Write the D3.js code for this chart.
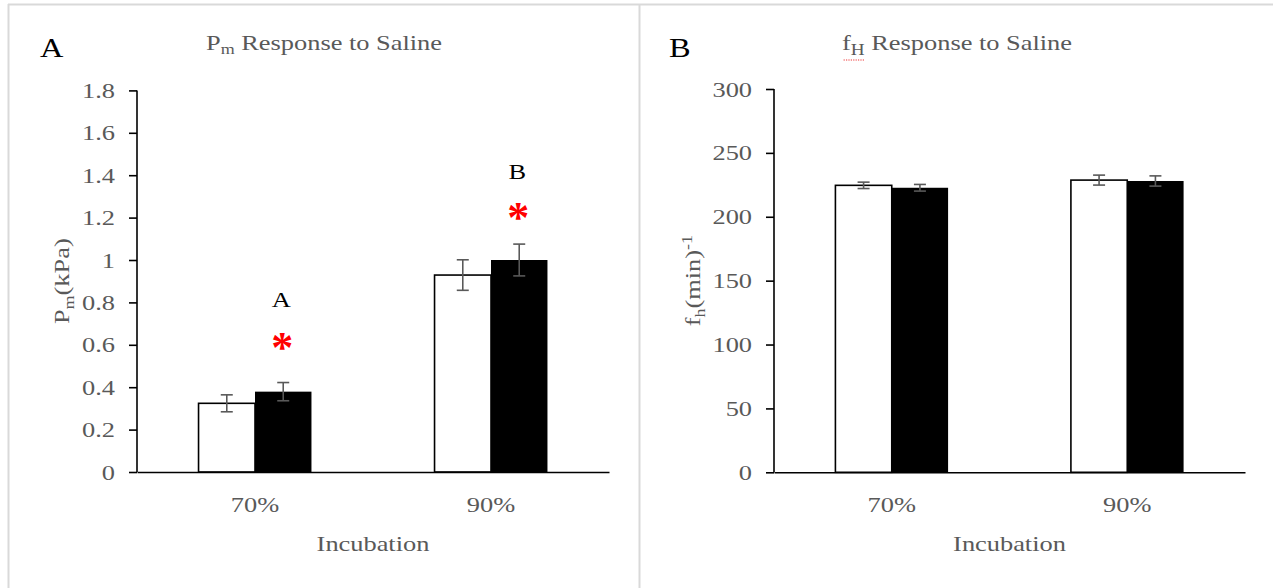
<!DOCTYPE html>
<html>
<head>
<meta charset="utf-8">
<script src="https://cdn.jsdelivr.net/npm/d3@7"></script>
<style>
  html, body { margin: 0; padding: 0; background: #fff; }
  svg { display: block; }
  text { font-family: "Liberation Serif", "Times New Roman", serif; }
</style>
</head>
<body>
<svg id="chart" width="1273" height="588"></svg>
<script>
// ---------- data ----------
const categories = ["70%", "90%"];
const seriesKeys = ["control", "treatment"];

const pmControl = [0.324, 0.929];
const pmTreatment = [0.379, 1.0];
const pmControlErr = [0.040, 0.072];
const pmTreatmentErr = [0.043, 0.075];
const pmTicks = [0, 0.2, 0.4, 0.6, 0.8, 1, 1.2, 1.4, 1.6, 1.8];
const pmGroupLetters = ["A", "B"];
// annotation anchor heights in Pm units
const pmStarAt = [0.608, 1.222];
const pmLetterAt = [0.811, 1.415];

const fhControl = [224.6, 228.7];
const fhTreatment = [222.7, 228.0];
const fhControlErr = [2.5, 3.9];
const fhTreatmentErr = [2.6, 4.0];
const fhTicks = [0, 50, 100, 150, 200, 250, 300];

// ---------- drawing ----------
const svg = d3.select("#chart");
const GRAY = "#595959";
const FONT = 22;
const SX = 1.2;   // horizontal stretch of the original text

// panel frames
svg.append("line").attr("x1", 8).attr("x2", 1273).attr("y1", 4.5).attr("y2", 4.5)
  .attr("stroke", "#d9d9d9").attr("stroke-width", 2);
svg.append("line").attr("x1", 8.5).attr("x2", 8.5).attr("y1", 4).attr("y2", 588)
  .attr("stroke", "#d9d9d9").attr("stroke-width", 2);
svg.append("line").attr("x1", 639.5).attr("x2", 639.5).attr("y1", 4).attr("y2", 588)
  .attr("stroke", "#d9d9d9").attr("stroke-width", 2);

function stretchText(parent, x, y, opts = {}) {
  const grp = parent.append("g")
    .attr("transform", `translate(${x},${y}) ${opts.rotate ? `rotate(${opts.rotate})` : ""} scale(${SX},1)`);
  const t = grp.append("text").attr("x", 0).attr("y", 0)
    .attr("text-anchor", opts.anchor || "middle")
    .attr("fill", opts.fill || GRAY)
    .attr("font-size", opts.size || FONT);
  return { grp, t };
}

function panel(cfg) {
  const g = svg.append("g");
  const x0 = d3.scaleBand().domain(categories).range([cfg.xl, cfg.xr]).padding(0);
  const x1 = d3.scaleBand().domain(seriesKeys).range([0, x0.bandwidth()])
    .paddingInner(0).paddingOuter(1.09);
  const y = d3.scaleLinear().domain(cfg.domain).range([cfg.y0, cfg.y1]);

  const rows = categories.map((c, i) => ([
    { cat: c, key: "control", v: cfg.control[i], e: cfg.controlErr[i] },
    { cat: c, key: "treatment", v: cfg.treatment[i], e: cfg.treatmentErr[i] }
  ])).flat();

  // bars
  g.selectAll("rect.bar").data(rows).join("rect")
    .attr("class", "bar")
    .attr("x", d => x0(d.cat) + x1(d.key))
    .attr("width", x1.bandwidth())
    .attr("y", d => y(d.v))
    .attr("height", d => y(0) - y(d.v))
    .attr("fill", d => d.key === "control" ? "#fff" : "#000")
    .attr("stroke", "#000")
    .attr("stroke-width", d => d.key === "control" ? 1.6 : 0);

  // error bars
  const eb = g.selectAll("g.err").data(rows).join("g").attr("class", "err")
    .attr("stroke", "#595959").attr("stroke-width", 1.6);
  const cx = d => x0(d.cat) + x1(d.key) + x1.bandwidth() / 2;
  eb.append("line").attr("x1", cx).attr("x2", cx)
    .attr("y1", d => y(d.v - d.e)).attr("y2", d => y(d.v + d.e));
  eb.append("line").attr("x1", d => cx(d) - 6).attr("x2", d => cx(d) + 6)
    .attr("y1", d => y(d.v - d.e)).attr("y2", d => y(d.v - d.e));
  eb.append("line").attr("x1", d => cx(d) - 6).attr("x2", d => cx(d) + 6)
    .attr("y1", d => y(d.v + d.e)).attr("y2", d => y(d.v + d.e));

  // y axis
  const yAxis = g.append("g").attr("transform", `translate(${cfg.xl},0)`)
    .call(d3.axisLeft(y).tickValues(cfg.ticks).tickSize(8).tickPadding(14)
      .tickFormat(d => String(d)));
  yAxis.attr("font-family", null);
  yAxis.select(".domain").attr("stroke", "#000").attr("stroke-width", 1.6)
    .attr("d", `M0,${cfg.y0}V${cfg.y1}`);
  yAxis.selectAll(".tick line").attr("stroke", "#000").attr("stroke-width", 1.6);
  yAxis.selectAll(".tick text").attr("fill", GRAY).attr("font-size", FONT)
    .attr("x", -22 / SX).attr("transform", `scale(${SX},1)`);

  // x axis
  const xAxis = g.append("g").attr("transform", `translate(0,${cfg.y0})`)
    .call(d3.axisBottom(x0).tickSize(0).tickPadding(24));
  xAxis.attr("font-family", null);
  xAxis.select(".domain").attr("stroke", "#000").attr("stroke-width", 1.6);
  xAxis.selectAll(".tick text").attr("fill", GRAY).attr("font-size", FONT)
    .attr("transform", `scale(${SX},1)`);

  // axis titles
  stretchText(g, (cfg.xl + cfg.xr) / 2, 551).t.text("Incubation");

  const yt = stretchText(g, cfg.yTitleX, (cfg.y0 + cfg.y1) / 2, { rotate: -90 });
  cfg.yTitle(yt.t);

  // chart title
  const tt = stretchText(g, cfg.titleX, 50);
  cfg.title(tt.t, tt.grp);

  // panel letter
  stretchText(g, cfg.letterX, 57, { anchor: "start", fill: "#000", size: 27 }).t.text(cfg.letter);

  return { g, x0, x1, y };
}

const A = panel({
  xl: 137, xr: 609, y0: 472, y1: 90.4, domain: [0, 1.8],
  control: pmControl, treatment: pmTreatment,
  controlErr: pmControlErr, treatmentErr: pmTreatmentErr,
  ticks: pmTicks, titleX: 324, letterX: 40, letter: "A",
  yTitleX: 69,
  yTitle: t => {
    t.append("tspan").text("P");
    t.append("tspan").attr("font-size", 15).attr("dy", 5).text("m");
    t.append("tspan").attr("dy", -5).text("(kPa)");
  },
  title: t => {
    t.append("tspan").text("P");
    t.append("tspan").attr("font-size", 15).attr("dy", 4).text("m");
    t.append("tspan").attr("dy", -4).text(" Response to Saline");
  }
});

// significance annotations on panel A (above the treatment bars)
categories.forEach((c, i) => {
  const cx = A.x0(c) + A.x1("treatment") + A.x1.bandwidth() / 2;
  A.g.append("text").attr("x", cx - 1).attr("y", A.y(pmStarAt[i]) + 19)
    .attr("text-anchor", "middle")
    .attr("fill", "#ff0000").attr("font-size", 44).attr("font-weight", "bold")
    .attr("font-family", "Liberation Sans").text("*");
  stretchText(A.g, cx - 2, A.y(pmLetterAt[i]) + 7, { fill: "#000" }).t.text(pmGroupLetters[i]);
});

const B = panel({
  xl: 774, xr: 1245, y0: 472.3, y1: 89, domain: [0, 300],
  control: fhControl, treatment: fhTreatment,
  controlErr: fhControlErr, treatmentErr: fhTreatmentErr,
  ticks: fhTicks, titleX: 957, letterX: 669, letter: "B",
  yTitleX: 700,
  yTitle: t => {
    t.append("tspan").text("f");
    t.append("tspan").attr("font-size", 15).attr("dy", 5).text("h");
    t.append("tspan").attr("dy", -5).text("(min)");
    t.append("tspan").attr("font-size", 15).attr("dy", -8).text("-1");
  },
  title: (t, grp) => {
    t.append("tspan").text("f");
    const h = t.append("tspan").attr("font-size", 16).attr("dy", 5).text("H");
    t.append("tspan").attr("dy", -5).text(" Response to Saline");
    // spell-check style red dotted underline under the subscript
    const bb = h.node().getBBox();
    grp.append("line").attr("x1", bb.x - 6).attr("x2", bb.x + bb.width)
      .attr("y1", bb.y + bb.height + 1.5).attr("y2", bb.y + bb.height + 1.5)
      .attr("stroke", "#ee3333").attr("stroke-width", 1).attr("stroke-dasharray", "1,1");
  }
});
</script>
</body>
</html>
